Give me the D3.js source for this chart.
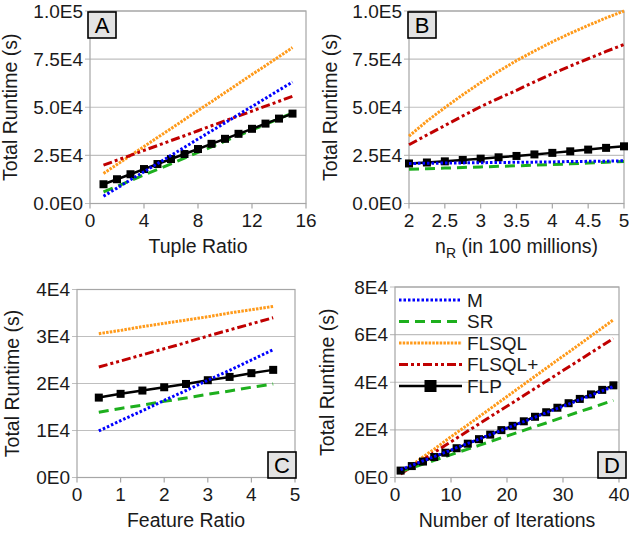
<!DOCTYPE html>
<html><head><meta charset="utf-8">
<script src="https://cdn.jsdelivr.net/npm/d3@7"></script>
<style>body{margin:0;background:#fff}svg{display:block;font-family:"Liberation Sans",Arial,sans-serif}</style>
</head><body><svg id="c" width="629" height="535"></svg>
<script>
// Series names / legend
const seriesNames = ["M", "SR", "FLSQL", "FLSQL+", "FLP"];

// Panel A: Tuple Ratio
const xA = [1,2,3,4,5,6,7,8,9,10,11,12,13,14,15];
const A_M      = [3800,8000,12300,16500,20700,25000,29200,33500,37700,41900,46200,50400,54600,58900,63100];
const A_SR     = [6000,8900,11900,14800,17700,20600,23600,26500,29400,32400,35300,38200,41100,44100,47000];
const A_FLSQL  = [15600,20300,24900,29600,34300,38900,43600,48300,52900,57600,62300,67000,71600,76300,81000];
const A_FLSQLp = [19900,22500,25000,27600,30100,32700,35200,37800,40400,42900,45500,48000,50600,53100,55700];
const A_FLP    = [10000,12600,15200,17900,20500,23100,25700,28300,31000,33600,36200,38800,41500,44100,46700];

// Panel B: n_R (in 100 millions)
const xB = [2,2.25,2.5,2.75,3,3.25,3.5,3.75,4,4.25,4.5,4.75,5];
const B_M      = [20800,20900,21000,21100,21200,21300,21400,21500,21600,21800,21900,22000,22200];
const B_SR     = [17800,18100,18400,18700,19000,19300,19600,19900,20200,20600,21000,21400,21800];
const B_FLSQL  = [35000,42800,49800,56500,62800,68700,74200,79200,84000,88400,92500,96400,100000];
const B_FLSQLp = [30500,35600,40500,45500,50300,54600,58800,63200,67500,71400,75200,79000,82600];
const B_FLP    = [20800,21300,21900,22600,23300,24000,24700,25500,26300,27100,28000,28900,29700];

// Panel C: Feature Ratio
const xC = [0.5,1,1.5,2,2.5,3,3.5,4,4.5];
const C_M      = [9900,12100,14200,16400,18500,20700,22800,25000,27200];
const C_SR     = [13900,14700,15400,16200,16900,17700,18400,19200,19900];
const C_FLSQL  = [30600,31300,32100,32800,33500,34200,35000,35700,36400];
const C_FLSQLp = [23500,24800,26100,27400,28700,30100,31400,32700,34000];
const C_FLP    = [17000,17800,18500,19200,19900,20700,21400,22200,22900];

// Panel D: Number of Iterations
const xD = [1,3,5,7,9,11,13,15,17,19,21,23,25,27,29,31,33,35,37,39];
const D_M      = [3300,5100,7000,8800,10600,12500,14300,16100,18000,19800,21700,23500,25300,27200,29000,30800,32700,34500,36400,38200];
const D_SR     = [2500,4100,5600,7200,8800,10400,11900,13500,15100,16700,18200,19800,21400,22900,24500,26100,27700,29200,30800,32400];
const D_FLSQL  = [1800,5200,8600,11900,15400,18800,22100,25500,28900,32300,35700,39100,42500,45900,49300,52600,56000,59400,62800,66200];
const D_FLSQLp = [1500,4500,7500,10500,13500,16500,19500,22500,25500,28500,31400,34400,37400,40400,43400,46400,49400,52400,55400,58400];
const D_FLP    = [2900,4800,6700,8600,10400,12300,14200,16100,18000,19900,21700,23600,25500,27400,29300,31200,33000,34900,36800,38700];

// Tick values
const xTicksA = [0,4,8,12,16];
const xTicksB = [2,2.5,3,3.5,4,4.5,5];
const xTicksC = [0,1,2,3,4,5];
const xTicksD = [0,10,20,30,40];
const yTicksAB = [0,25000,50000,75000,100000];
const yTicksC = [0,10000,20000,30000,40000];
const yTicksD = [0,20000,40000,60000,80000];

const styles = {
  "M":      {color:"#0000FF", w:3,   dash:"2.5,2"},
  "SR":     {color:"#1DAF1D", w:3,   dash:"10,6"},
  "FLSQL":  {color:"#FF9A1A", w:3,   dash:"2.5,1.2"},
  "FLSQL+": {color:"#C00000", w:3,   dash:"9,3,3,3,3,3"},
  "FLP":    {color:"#000000", w:2.5, dash:null}
};
const drawOrder = ["FLSQL","FLSQL+","SR","FLP","M"];

const svg = d3.select("#c");

function fmtE1(d){ if(d===0) return "0.0E0"; const e=Math.floor(Math.log10(d)); return (d/Math.pow(10,e)).toFixed(1)+"E"+e; }
function fmtE0(d){ if(d===0) return "0E0"; const e=Math.floor(Math.log10(d)); return Math.round(d/Math.pow(10,e))+"E"+e; }

function panel(cfg){
  const g = svg.append("g");
  const x = d3.scaleLinear().domain(cfg.xDom).range(cfg.xRange);
  const y = d3.scaleLinear().domain(cfg.yDom).range(cfg.yRange);
  const [x0,x1] = cfg.xRange, [y0,y1] = cfg.yRange;
  g.selectAll("line.grid").data(cfg.yTicks).enter().append("line")
    .attr("x1", x0-5).attr("x2", x1).attr("y1", d=>y(d)).attr("y2", d=>y(d))
    .attr("stroke","#BFBFBF").attr("stroke-width",1.2);
  g.append("rect").attr("x",x0).attr("y",y1).attr("width",x1-x0).attr("height",y0-y1)
    .attr("fill","none").attr("stroke","#A6A6A6").attr("stroke-width",1.2);
  g.selectAll("line.xt").data(cfg.xTicks).enter().append("line")
    .attr("x1",d=>x(d)).attr("x2",d=>x(d)).attr("y1",y0).attr("y2",y0+5)
    .attr("stroke","#A6A6A6").attr("stroke-width",1.2);
  g.selectAll("text.xl").data(cfg.xTicks).enter().append("text")
    .attr("x",d=>x(d)).attr("y",y0+23).attr("text-anchor","middle")
    .attr("font-size",19).attr("fill","#1a1a1a").text(d=>String(d));
  g.selectAll("text.yl").data(cfg.yTicks).enter().append("text")
    .attr("x",x0-7).attr("y",d=>y(d)+6.5).attr("text-anchor","end")
    .attr("font-size",19).attr("fill","#1a1a1a").text(cfg.yFmt);
  const xt = g.append("text").attr("x",(x0+x1)/2).attr("y",y0+49).attr("text-anchor","middle")
    .attr("font-size",19.5).attr("fill","#1a1a1a");
  if(cfg.xTitleSub){
    xt.append("tspan").text(cfg.xTitle);
    xt.append("tspan").attr("font-size",14).attr("dy",5).text(cfg.xTitleSub);
    xt.append("tspan").attr("dy",-5).text(cfg.xTitleRest);
  } else xt.text(cfg.xTitle);
  g.append("text").attr("transform",`translate(${cfg.yTitleX},${(y0+y1)/2}) rotate(-90)`)
    .attr("text-anchor","middle").attr("font-size",19.5).attr("fill","#1a1a1a").text("Total Runtime (s)");
  const line = d3.line().x(d=>x(d[0])).y(d=>y(d[1]));
  drawOrder.forEach(name=>{
    const vals = cfg.series[name];
    const pts = cfg.xs.map((xv,i)=>[xv, vals[i]]);
    const s = styles[name];
    g.append("path").attr("d",line(pts)).attr("fill","none").attr("stroke",s.color)
      .attr("stroke-width",s.w).attr("stroke-dasharray",s.dash);
    if(name==="FLP"){
      g.selectAll(null).data(pts).enter().append("rect")
        .attr("x",d=>x(d[0])-4).attr("y",d=>y(d[1])-4).attr("width",8).attr("height",8)
        .attr("fill","#000");
    }
  });
  g.append("rect").attr("x",cfg.box[0]).attr("y",cfg.box[1]).attr("width",28).attr("height",26)
    .attr("fill","#E3E3E3").attr("stroke","#000").attr("stroke-width",1.6);
  g.append("text").attr("x",cfg.box[0]+14).attr("y",cfg.box[1]+21).attr("text-anchor","middle")
    .attr("font-size",22).attr("fill","#000").text(cfg.label);
  return {g,x,y};
}

panel({xDom:[0,16], xRange:[90,306], yDom:[0,100000], yRange:[203.5,11],
  xTicks:xTicksA, yTicks:yTicksAB, yFmt:fmtE1, xTitle:"Tuple Ratio", yTitleX:17,
  xs:xA, series:{"M":A_M,"SR":A_SR,"FLSQL":A_FLSQL,"FLSQL+":A_FLSQLp,"FLP":A_FLP},
  box:[88,12], label:"A"});
panel({xDom:[2,5], xRange:[409,624], yDom:[0,100000], yRange:[203.5,11],
  xTicks:xTicksB, yTicks:yTicksAB, yFmt:fmtE1, xTitle:"n", xTitleSub:"R", xTitleRest:" (in 100 millions)", yTitleX:337,
  xs:xB, series:{"M":B_M,"SR":B_SR,"FLSQL":B_FLSQL,"FLSQL+":B_FLSQLp,"FLP":B_FLP},
  box:[408,12], label:"B"});
panel({xDom:[0,5], xRange:[77,295], yDom:[0,40000], yRange:[477.5,289.5],
  xTicks:xTicksC, yTicks:yTicksC, yFmt:fmtE0, xTitle:"Feature Ratio", yTitleX:19,
  xs:xC, series:{"M":C_M,"SR":C_SR,"FLSQL":C_FLSQL,"FLSQL+":C_FLSQLp,"FLP":C_FLP},
  box:[268,452], label:"C"});
panel({xDom:[0,40], xRange:[395,619], yDom:[0,80000], yRange:[477.5,287],
  xTicks:xTicksD, yTicks:yTicksD, yFmt:fmtE0, xTitle:"Number of Iterations", yTitleX:334,
  xs:xD, series:{"M":D_M,"SR":D_SR,"FLSQL":D_FLSQL,"FLSQL+":D_FLSQLp,"FLP":D_FLP},
  box:[598,452], label:"D"});

// Legend (panel D)
const leg = svg.append("g");
const legY = d3.scalePoint().domain(seriesNames).range([300,386]);
seriesNames.forEach(name=>{
  const s = styles[name], yy = legY(name);
  leg.append("line").attr("x1",399).attr("x2",462).attr("y1",yy).attr("y2",yy)
    .attr("stroke",s.color).attr("stroke-width",s.w).attr("stroke-dasharray",s.dash);
  if(name==="FLP") leg.append("rect").attr("x",430.5-6).attr("y",yy-6).attr("width",12).attr("height",12).attr("fill","#000");
  leg.append("text").attr("x",467).attr("y",yy+6.5).attr("font-size",19).attr("fill","#1a1a1a").text(name);
});
</script></body></html>
